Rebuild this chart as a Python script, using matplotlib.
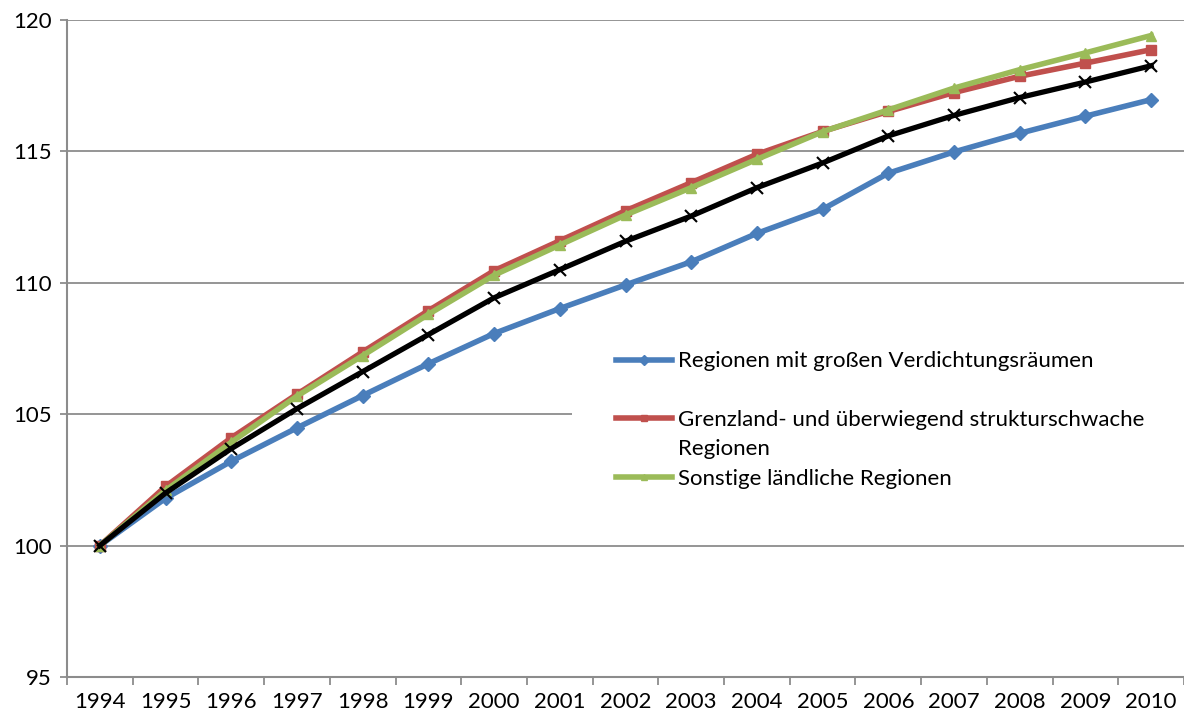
import matplotlib.pyplot as plt
from matplotlib.lines import Line2D

plt.rcParams['font.family'] = ['Lato', 'DejaVu Sans']

years = [str(y) for y in range(1994, 2011)]

# index 1994 = 100
verdichtung = [100.0, 101.8, 103.21, 104.48, 105.71, 106.92, 108.07, 109.02, 109.92, 110.8,
               111.88, 112.8, 114.17, 114.98, 115.69, 116.34, 116.97]
grenzland = [100.0, 102.25, 104.1, 105.76, 107.37, 108.94, 110.46, 111.6, 112.74, 113.81,
             114.89, 115.76, 116.52, 117.24, 117.86, 118.36, 118.87]
laendlich = [100.0, 102.1, 103.93, 105.69, 107.23, 108.8, 110.29, 111.44, 112.58, 113.62,
             114.7, 115.75, 116.58, 117.41, 118.11, 118.75, 119.41]
gesamt = [100.0, 102.0, 103.69, 105.21, 106.62, 108.03, 109.43, 110.5, 111.58, 112.54,
          113.62, 114.56, 115.59, 116.37, 117.05, 117.64, 118.26]

labels = ["Regionen mit großen Verdichtungsräumen",
          "Grenzland- und überwiegend strukturschwache",
          "Regionen",
          "Sonstige ländliche Regionen"]

c_blue = '#4A7EBB'
c_red = '#C0504D'
c_green = '#9BBB59'
gridc = '#8C8C8C'

fig = plt.figure(figsize=(11.84, 7.15), dpi=100)
ax = fig.add_axes([67/1184, 38/715, 1117/1184, 657/715])

x = range(len(years))
l1, = ax.plot(x, verdichtung, color=c_blue, lw=4, marker='D', ms=7, zorder=3)
l2, = ax.plot(x, grenzland, color=c_red, lw=4, marker='s', ms=7, zorder=3)
l3, = ax.plot(x, laendlich, color=c_green, lw=4, marker='^', ms=7, zorder=3)
ax.plot(x, gesamt, color='black', lw=3.8, marker='x', ms=8, mew=1.5, zorder=4)

ax.set_xlim(-0.5, len(years) - 0.5)
ax.set_ylim(95, 120)
ax.set_yticks([95, 100, 105, 110, 115, 120])
ax.grid(axis='y', color=gridc, lw=1.3)
ax.set_axisbelow(True)

# ticks between the categories, labels centred under each year
ax.set_xticks([i - 0.5 for i in range(len(years) + 1)])
ax.set_xticklabels([])
ax.set_xticks(list(x), minor=True)
ax.set_xticklabels(years, minor=True)
ax.tick_params(axis='x', which='major', length=6, width=1.3, color=gridc, direction='out')
ax.tick_params(axis='x', which='minor', length=0, pad=11, labelsize=16)
ax.tick_params(axis='y', length=5, width=1.3, color=gridc, labelsize=16, pad=6)

for s in ['top', 'right']:
    ax.spines[s].set_visible(False)
for s in ['left', 'bottom']:
    ax.spines[s].set_color(gridc)
    ax.spines[s].set_linewidth(1.5)

# blank rows give the gap after the first entry and the wrapped second line
blank = Line2D([], [], linestyle='none')
leg = ax.legend([l1, blank, l2, blank, l3],
                [labels[0], ' ', labels[1], labels[2], labels[3]],
                loc='upper left', bbox_to_anchor=(572/1184, 1 - 307/715),
                bbox_transform=fig.transFigure, fontsize=16, frameon=True,
                facecolor='white', edgecolor='none', framealpha=1, fancybox=False,
                borderpad=2.0, borderaxespad=0, handlelength=2.5, handletextpad=0.28,
                labelspacing=0.42, markerscale=0.7)

fig.savefig('out.png', dpi=100)
